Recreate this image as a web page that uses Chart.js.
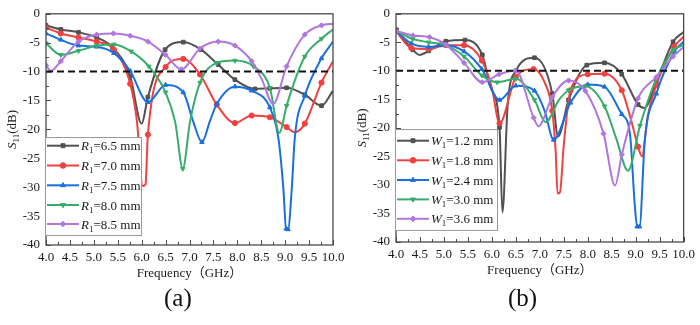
<!DOCTYPE html>
<html>
<head>
<meta charset="utf-8">
<script src="https://cdn.jsdelivr.net/npm/chart.js@4.4.1/dist/chart.umd.min.js"></script>
<style>
  body { margin: 0; background: #fff; }
  #wrap { position: relative; width: 700px; height: 325px; }
  canvas { position: absolute; top: 0; }
  .tag { position: absolute; top: 284px; font: 25px "Liberation Serif", serif; color: #111; }
</style>
</head>
<body>
<div id="wrap">
  <canvas id="chartA" width="350" height="285" style="left:0"></canvas>
  <canvas id="chartB" width="350" height="285" style="left:350px"></canvas>
  <div class="tag" style="left:164px">(a)</div>
  <div class="tag" style="left:508px">(b)</div>
</div>
<script>
// ---- (a) S11 vs frequency for different R1 ----
const rNames = ['6.5', '7.0', '7.5', '8.0', '8.5'];

const r65Freq = [4.0, 4.31, 4.68, 5.06, 5.39, 5.76, 6.0, 6.13, 6.49, 6.87, 7.24, 7.6, 7.95, 8.37, 8.68, 9.03, 9.41, 9.76, 10.0];
const r65S11  = [-2.0, -2.7, -3.2, -4.1, -5.8, -10.8, -19.0, -14.4, -6.2, -4.9, -6.2, -8.8, -11.4, -13.0, -12.9, -12.8, -14.0, -15.9, -13.3];

const r70Freq = [4.0, 4.31, 4.68, 5.06, 5.42, 5.76, 5.9, 6.02, 6.08, 6.13, 6.5, 6.87, 7.22, 7.57, 7.95, 8.3, 8.68, 9.03, 9.2, 9.41, 9.76, 10.0];
const r70S11  = [-2.4, -3.4, -4.1, -4.8, -6.2, -12.1, -18.5, -29.8, -29.5, -20.9, -9.2, -7.8, -10.5, -15.7, -18.9, -17.6, -17.9, -19.6, -20.5, -19.0, -11.9, -8.2];

const r75Freq = [4.0, 4.31, 4.68, 5.06, 5.42, 5.76, 6.13, 6.5, 6.87, 7.08, 7.26, 7.43, 7.57, 7.95, 8.3, 8.68, 8.86, 8.96, 9.02, 9.06, 9.14, 9.2, 9.41, 9.76, 10.0];
const r75S11  = [-3.4, -4.5, -5.5, -5.7, -6.8, -9.9, -15.3, -12.3, -13.6, -18.7, -22.2, -18.5, -15.6, -12.6, -13.3, -16.2, -21.6, -30.0, -37.2, -37.3, -30.0, -21.6, -14.2, -7.7, -4.8];

const r80Freq = [4.0, 4.31, 4.68, 5.06, 5.42, 5.78, 6.15, 6.5, 6.7, 6.86, 7.01, 7.22, 7.57, 7.95, 8.34, 8.68, 8.88, 9.03, 9.41, 9.76, 10.0];
const r80S11  = [-5.1, -7.1, -6.4, -5.5, -5.3, -6.5, -9.1, -13.6, -18.7, -26.8, -18.7, -11.9, -8.5, -8.1, -9.1, -12.8, -20.6, -15.9, -7.4, -4.3, -2.7];

const r85Freq = [4.0, 4.1, 4.31, 4.68, 5.06, 5.41, 5.76, 6.13, 6.5, 6.83, 7.22, 7.6, 7.95, 8.3, 8.51, 8.75, 9.03, 9.41, 9.76, 10.0];
const r85S11  = [-8.9, -9.9, -8.2, -4.8, -3.6, -3.4, -3.8, -4.8, -7.1, -9.6, -6.0, -4.8, -5.5, -8.2, -11.3, -15.6, -9.1, -3.6, -2.0, -1.7];

// ---- (b) S11 vs frequency for different W1 ----
const wNames = ['1.2', '1.8', '2.4', '3.0', '3.6'];

const w12Freq = [4.0, 4.35, 4.49, 4.68, 5.04, 5.44, 5.8, 5.97, 6.16, 6.22, 6.33, 6.5, 6.89, 7.26, 7.38, 7.6, 7.98, 8.35, 8.71, 9.05, 9.18, 9.43, 9.78, 10.0];
const w12S11  = [-2.8, -6.3, -7.2, -6.5, -4.8, -4.6, -7.2, -12.8, -19.9, -34.8, -15.9, -10.0, -7.7, -14.0, -21.5, -15.1, -9.0, -8.6, -10.6, -15.9, -16.5, -12.0, -4.9, -3.2];

const w18Freq = [4.0, 4.32, 4.68, 5.04, 5.42, 5.79, 6.0, 6.16, 6.5, 6.87, 7.1, 7.26, 7.33, 7.37, 7.42, 7.5, 7.64, 8.0, 8.35, 8.71, 8.9, 9.05, 9.13, 9.25, 9.43, 9.8, 10.0];
const w18S11  = [-3.0, -6.0, -6.2, -5.5, -5.5, -8.2, -13.0, -19.2, -11.1, -9.7, -12.0, -17.0, -24.0, -31.5, -31.3, -23.0, -13.4, -10.6, -10.5, -13.4, -18.5, -23.3, -25.0, -18.0, -12.5, -5.8, -4.0];

const w24Freq = [4.0, 4.32, 4.68, 5.04, 5.42, 5.79, 6.16, 6.5, 6.89, 7.1, 7.29, 7.64, 8.0, 8.35, 8.71, 8.88, 8.98, 9.03, 9.08, 9.19, 9.43, 9.81, 10.0];
const w24S11  = [-3.0, -5.2, -5.8, -5.5, -6.6, -9.7, -15.1, -12.6, -13.5, -17.0, -22.1, -15.6, -12.4, -12.8, -17.6, -21.0, -33.4, -37.3, -37.3, -22.2, -14.0, -6.6, -4.9];

const w30Freq = [4.0, 4.35, 4.68, 5.04, 5.42, 5.79, 6.11, 6.5, 6.89, 7.12, 7.4, 7.6, 7.95, 8.35, 8.6, 8.84, 9.09, 9.43, 9.8, 10.0];
const w30S11  = [-3.0, -4.4, -5.0, -5.5, -7.5, -10.8, -12.0, -11.4, -15.1, -19.0, -15.1, -13.4, -12.7, -16.2, -22.0, -27.5, -19.6, -11.4, -6.3, -5.5];

const w36Freq = [4.0, 4.35, 4.7, 5.04, 5.42, 5.8, 6.15, 6.5, 6.87, 6.97, 7.26, 7.6, 7.95, 8.33, 8.57, 8.71, 9.05, 9.43, 9.78, 10.0];
const w36S11  = [-3.0, -3.8, -4.1, -5.4, -8.6, -12.0, -10.6, -10.0, -18.2, -19.7, -14.6, -11.7, -13.5, -21.0, -30.1, -24.7, -14.8, -11.1, -7.5, -5.8];

const refLevel = -10;   // dashed -10 dB line

const colors = ['#515151', '#F14040', '#1A6FDF', '#37AD6B', '#B177DE'];
const markers = [
  { style: 'rect', rot: 0 },
  { style: 'circle', rot: 0 },
  { style: 'triangle', rot: 0 },
  { style: 'triangle', rot: 180 },
  { style: 'rectRot', rot: 0 }
];
const serif = '"Liberation Serif", "Times New Roman", serif';

// symbols sit every 0.36 GHz along each trace, starting at 4.0
const markStep = 0.36;
function onMarkGrid(f) {
  const k = Math.round((f - 4) / markStep);
  return Math.abs(f - (4 + k * markStep)) < 0.055 && 4 + k * markStep <= 10;
}

function drawMarker(ctx, i, x, y) {
  ctx.fillStyle = colors[i];
  ctx.strokeStyle = colors[i];
  ctx.lineWidth = 1;
  if (Chart.helpers && Chart.helpers.drawPoint) {
    Chart.helpers.drawPoint(ctx, { pointStyle: markers[i].style, rotation: markers[i].rot, radius: 2.8, borderWidth: 1 }, x, y);
  } else {
    ctx.beginPath(); ctx.arc(x, y, 2.8, 0, Math.PI * 2); ctx.fill();
  }
}

// text made of runs: [font, text, baseline shift]
function runsWidth(ctx, runs) {
  let w = 0;
  runs.forEach(r => { ctx.font = r[0]; w += ctx.measureText(r[1]).width; });
  return w;
}
function drawRuns(ctx, runs, x, y) {
  ctx.textBaseline = 'alphabetic';
  ctx.textAlign = 'left';
  runs.forEach(r => {
    ctx.font = r[0];
    ctx.fillText(r[1], x, y + r[2]);
    x += ctx.measureText(r[1]).width;
  });
}

const framePlugin = {
  id: 'frame',
  afterDraw(chart, args, opts) {
    const { ctx, chartArea: a, scales: { x, y } } = chart;
    ctx.save();

    // box around the plot
    ctx.strokeStyle = '#4a4a4a';
    ctx.lineWidth = 1.3;
    ctx.strokeRect(a.left, a.top, a.right - a.left, a.bottom - a.top);

    // inward tick marks
    ctx.beginPath();
    ctx.lineWidth = 1;
    for (let k = 0; k <= 24; k++) {
      const v = 4 + k * 0.25;
      const px = Math.round(x.getPixelForValue(v)) + 0.5;
      const len = k % 2 === 0 ? 5 : 3;
      ctx.moveTo(px, a.bottom); ctx.lineTo(px, a.bottom - len);
    }
    for (let k = 0; k <= 16; k++) {
      const v = -40 + k * 2.5;
      const py = Math.round(y.getPixelForValue(v)) + 0.5;
      const len = k % 2 === 0 ? 5 : 3;
      ctx.moveTo(a.left, py); ctx.lineTo(a.left + len, py);
    }
    ctx.stroke();

    ctx.fillStyle = '#1a1a1a';

    // y title: S11(dB)
    const yRuns = [['italic 13px ' + serif, 'S', 0], ['9px ' + serif, '11', 3], ['13px ' + serif, '(dB)', 0]];
    ctx.save();
    ctx.translate(16, (a.top + a.bottom) / 2);
    ctx.rotate(-Math.PI / 2);
    drawRuns(ctx, yRuns, -runsWidth(ctx, yRuns) / 2, 0);
    ctx.restore();

    // x title
    ctx.font = '13px ' + serif + ', "Noto Sans CJK SC"';
    ctx.textAlign = 'center';
    ctx.textBaseline = 'alphabetic';
    ctx.fillText('Frequency（GHz）', (a.left + a.right) / 2, a.bottom + 32);

    // legend
    const lg = opts.legend;
    ctx.fillStyle = '#fff';
    ctx.fillRect(lg.x, lg.y, lg.w, lg.h);
    ctx.strokeStyle = '#9a9a9a';
    ctx.lineWidth = 1;
    ctx.strokeRect(lg.x + 0.5, lg.y + 0.5, lg.w, lg.h);
    lg.names.forEach((n, i) => {
      const ry = lg.rowY[i];
      ctx.strokeStyle = colors[i];
      ctx.lineWidth = 2;
      ctx.beginPath();
      ctx.moveTo(lg.x + 2, ry); ctx.lineTo(lg.x + 34, ry);
      ctx.stroke();
      drawMarker(ctx, i, lg.x + 18, ry);
      ctx.fillStyle = '#1a1a1a';
      drawRuns(ctx, [['italic 13px ' + serif, lg.symbol, 0], ['9px ' + serif, '1', 3], ['13px ' + serif, '=' + n + ' mm', 0]], lg.x + 36, ry + 4.5);
    });

    ctx.restore();
  }
};

function makeChart(id, freqs, values, names, symbol, area, legend) {
  const datasets = names.map((n, i) => ({
    label: symbol + '1=' + n + ' mm',
    data: freqs[i].map((f, k) => ({ x: f, y: values[i][k] })),
    borderColor: colors[i],
    backgroundColor: colors[i],
    borderWidth: 2,
    pointStyle: markers[i].style,
    pointRotation: markers[i].rot,
    pointRadius: c => (c.raw && onMarkGrid(c.raw.x) ? 2.6 : 0),
    pointBorderWidth: 1,
    cubicInterpolationMode: 'monotone',
    order: 10 - i
  }));
  datasets.push({
    label: '-10 dB',
    data: [{ x: 4, y: refLevel }, { x: 10, y: refLevel }],
    borderColor: '#111',
    borderWidth: 2,
    borderDash: [7, 4],
    pointRadius: 0,
    order: 0
  });

  return new Chart(document.getElementById(id), {
    type: 'line',
    data: { datasets },
    options: {
      responsive: false,
      animation: false,
      layout: { padding: { left: 0, right: area.right, top: area.top, bottom: 0 } },
      plugins: {
        legend: { display: false },
        tooltip: { enabled: false },
        frame: { legend }
      },
      scales: {
        x: {
          type: 'linear', min: 4, max: 10,
          ticks: { stepSize: 0.5, autoSkip: false, maxRotation: 0, padding: 5, color: '#1a1a1a',
                   font: { family: serif, size: 13 }, callback: v => v.toFixed(1) },
          grid: { display: false, drawTicks: false },
          border: { display: false },
          afterFit: s => { s.height = area.xh; }
        },
        y: {
          min: -40, max: 0,
          ticks: { stepSize: 5, padding: 6, color: '#1a1a1a', font: { family: serif, size: 13 } },
          grid: { display: false, drawTicks: false },
          border: { display: false },
          afterFit: s => { s.width = 46; }
        }
      }
    },
    plugins: [framePlugin]
  });
}

makeChart('chartA',
  [r65Freq, r70Freq, r75Freq, r80Freq, r85Freq],
  [r65S11, r70S11, r75S11, r80S11, r85S11],
  rNames, 'R',
  { right: 17, top: 10, xh: 40 },
  { x: 45, y: 137, w: 96, h: 98, rowY: [145.7, 165.5, 185.3, 205, 224], symbol: 'R', names: rNames });

makeChart('chartB',
  [w12Freq, w18Freq, w24Freq, w30Freq, w36Freq],
  [w12S11, w18S11, w24S11, w30S11, w36S11],
  wNames, 'W',
  { right: 14, top: 5, xh: 43 },
  { x: 45, y: 129, w: 102, h: 101, rowY: [140.7, 160.3, 180, 199.4, 218.8], symbol: 'W', names: wNames });
</script>
</body>
</html>
